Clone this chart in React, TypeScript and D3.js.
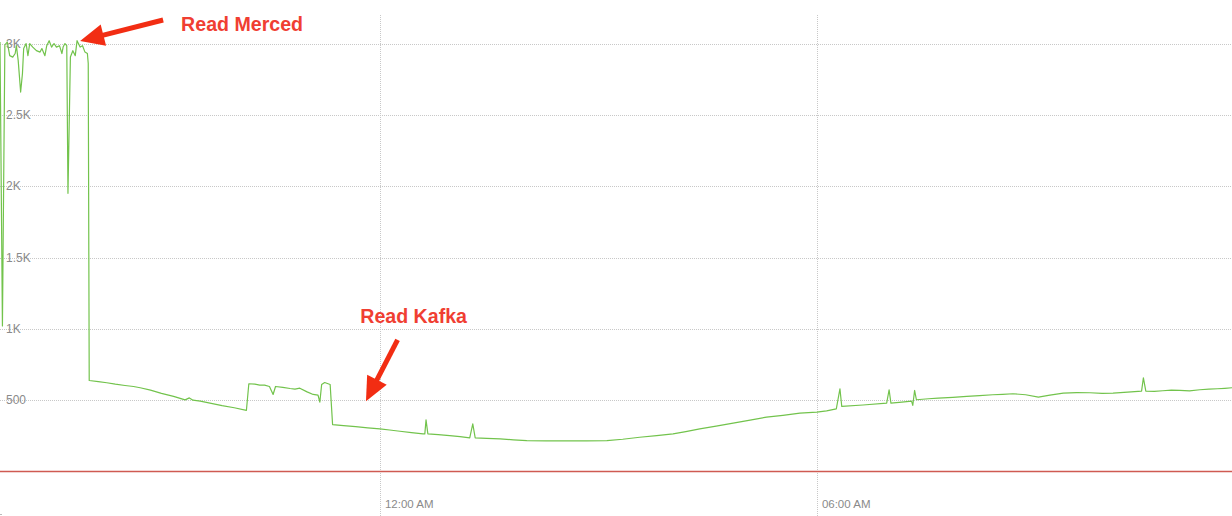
import * as d3 from "d3";
import React, { useEffect, useRef } from "react";

// minutes relative to midnight, reads per second
const readMinutes = [
  -313, -311, -309, -307, -305, -302.5, -300.5, -299.5, -298, -296, -294.5, -293.5, -291.5, -290,
  -288.5, -286, -283, -280, -278.5, -276, -274.5, -272.5, -270.5, -268.5, -266.5, -264, -262, -261,
  -259.5, -258, -257, -255, -253, -251, -249.5, -247, -245, -243, -241, -240.3, -239.5, -232, -225,
  -218, -210, -203, -197.5, -189, -180, -170, -160.5, -157, -154, -148, -139, -130, -120, -110, -108,
  -103, -99, -95, -91, -88, -86, -80, -74, -70, -66, -60, -55, -51, -49.5, -48, -45.5, -41, -39,
  -30, -20, -10, 0, 8, 16.5, 26, 35.5, 37, 38, 39.5, 48, 57.5, 66, 74, 76.5, 78.5, 88, 99, 110, 121,
  137, 154, 170, 187, 200, 214, 228, 241.5, 252, 263.5, 277, 291, 305, 318.5, 332, 346, 360, 368,
  376, 379, 380.5, 398, 417.5, 419.5, 421, 430, 438, 439, 440.5, 442, 452, 460, 472, 483.5, 494, 505,
  513, 521.5, 532, 542.5, 552, 563, 574, 585, 595, 604, 616, 627.5, 629, 631, 638, 645, 652, 659,
  667, 675.5, 683, 690, 696, 702,
];
const readValues = [
  3010, 1020, 2990, 3010, 2915, 2905, 2930, 2985, 2880, 2660, 2790, 2965, 3000, 2915,
  3000, 2975, 2950, 2940, 2965, 2915, 2985, 3020, 2975, 3000, 2975, 2985, 2930, 2975,
  3000, 2985, 1950, 2905, 2950, 2915, 3020, 2975, 2985, 2940, 2930, 2860, 638, 630, 622,
  612, 603, 596, 587, 570, 548, 527, 502, 516, 500, 493, 478, 462, 447, 428, 615,
  612, 606, 605, 596, 540, 596, 590, 582, 578, 584, 558, 540, 535, 486, 610, 624, 610, 329,
  322, 314, 306, 299, 291, 282, 273, 264, 264, 362, 264, 258, 252, 244, 236, 334, 236, 232, 229, 222, 217,
  214, 215, 214, 217, 226, 240, 251, 264, 280, 299, 318, 339, 360, 381, 394, 409, 416, 425,
  439, 580, 456, 466, 479, 573, 479, 486, 493, 463, 568, 503, 510, 515, 520, 526, 532, 538,
  541, 545, 538, 521, 535, 549, 553, 552, 547, 549, 556, 563, 657, 563, 561, 566, 570, 568,
  565, 573, 577, 580, 583, 587,
];

// second series sitting on zero
const zeroMinutes = [-313, 702];
const zeroValues = [0, 0];

const yTickValues = [500, 1000, 1500, 2000, 2500, 3000];
const yTickLabels = ["500", "1K", "1.5K", "2K", "2.5K", "3K"];
const xTickMinutes = [0, 360];
const xTickLabels = ["12:00 AM", "06:00 AM"];

const noteLabels = ["Read Merced", "Read Kafka"];
const noteMinutes = [-247, -11.5];
const noteValues = [3018, 493];

const W = 1232;
const H = 516;
const FONT = "'Liberation Sans', Arial, Helvetica, sans-serif";

export default function App() {
  const svgRef = useRef<SVGSVGElement | null>(null);

  useEffect(() => {
    document.body.style.margin = "0";
    const svg = d3.select(svgRef.current);
    svg.selectAll("*").remove();

    const x = d3.scaleLinear().domain([-313, 702]).range([0, W]);
    const y = d3.scaleLinear().domain([0, 3200]).range([471.5, 15]);

    const root = svg.append("g");

    // horizontal grid
    root.append("g")
      .selectAll("line")
      .data(yTickValues)
      .join("line")
      .attr("x1", 0)
      .attr("x2", W)
      .attr("y1", d => Math.round(y(d)) + 0.5)
      .attr("y2", d => Math.round(y(d)) + 0.5)
      .attr("stroke", "#c8c8c8")
      .attr("stroke-dasharray", "1,1");

    // vertical grid
    root.append("g")
      .selectAll("line")
      .data(xTickMinutes)
      .join("line")
      .attr("x1", d => Math.round(x(d)) + 0.5)
      .attr("x2", d => Math.round(x(d)) + 0.5)
      .attr("y1", 15)
      .attr("y2", H)
      .attr("stroke", "#c8c8c8")
      .attr("stroke-dasharray", "1,1");

    // y labels
    root.append("g")
      .selectAll("text")
      .data(yTickValues)
      .join("text")
      .attr("x", 6)
      .attr("y", d => y(d))
      .attr("dy", "0.35em")
      .attr("fill", "#8a8a8a")
      .attr("font-family", FONT)
      .attr("font-size", 12)
      .text((_, i) => yTickLabels[i]);

    // x labels
    root.append("g")
      .selectAll("text")
      .data(xTickMinutes)
      .join("text")
      .attr("x", d => x(d) + 5)
      .attr("y", 508)
      .attr("fill", "#8a8a8a")
      .attr("font-family", FONT)
      .attr("font-size", 11.5)
      .text((_, i) => xTickLabels[i]);

    root.append("line")
      .attr("x1", 0).attr("x2", 2).attr("y1", 514.5).attr("y2", 514.5)
      .attr("stroke", "#bbb");

    const lineGen = d3.line<[number, number]>().x(d => x(d[0])).y(d => y(d[1]));

    // zero series
    const zeroPts = zeroMinutes.map((m, i) => [m, zeroValues[i]] as [number, number]);
    root.append("path")
      .datum(zeroPts)
      .attr("fill", "none")
      .attr("stroke", "#cf5a52")
      .attr("stroke-width", 1.4)
      .attr("d", lineGen);

    // reads series
    const pts = readMinutes.map((m, i) => [m, readValues[i]] as [number, number]);
    root.append("path")
      .datum(pts)
      .attr("fill", "none")
      .attr("stroke", "#72c34c")
      .attr("stroke-width", 1.2)
      .attr("stroke-linejoin", "round")
      .attr("d", lineGen);

    // annotations: tail offset and text offset relative to arrow tip
    const tails = [[83, -21], [31.6, -61.4]];
    const textOff = [[101, -9.5], [-5.7, -78]];
    const notes = root.append("g");
    noteLabels.forEach((label, i) => {
      const tx = x(noteMinutes[i]);
      const ty = y(noteValues[i]);
      const [dx, dy] = tails[i];
      const len = Math.hypot(dx, dy);
      const ux = dx / len, uy = dy / len;
      const nx = -uy, ny = ux;
      const L = 24, hw = 11;
      const bx = tx + ux * L, by = ty + uy * L;
      notes.append("line")
        .attr("x1", tx + dx).attr("y1", ty + dy)
        .attr("x2", bx - ux * 2).attr("y2", by - uy * 2)
        .attr("stroke", "#f22d13")
        .attr("stroke-width", 5);
      notes.append("path")
        .attr("d", `M${tx},${ty}L${bx + nx * hw},${by + ny * hw}L${bx - nx * hw},${by - ny * hw}Z`)
        .attr("fill", "#f22d13");
      notes.append("text")
        .attr("x", tx + textOff[i][0])
        .attr("y", ty + textOff[i][1])
        .attr("fill", "#f03e32")
        .attr("font-family", FONT)
        .attr("font-weight", "bold")
        .attr("font-size", 19.6)
        .text(label);
    });
  }, []);

  return <svg ref={svgRef} width={W} height={H} style={{ display: "block", background: "#fff" }} />;
}
